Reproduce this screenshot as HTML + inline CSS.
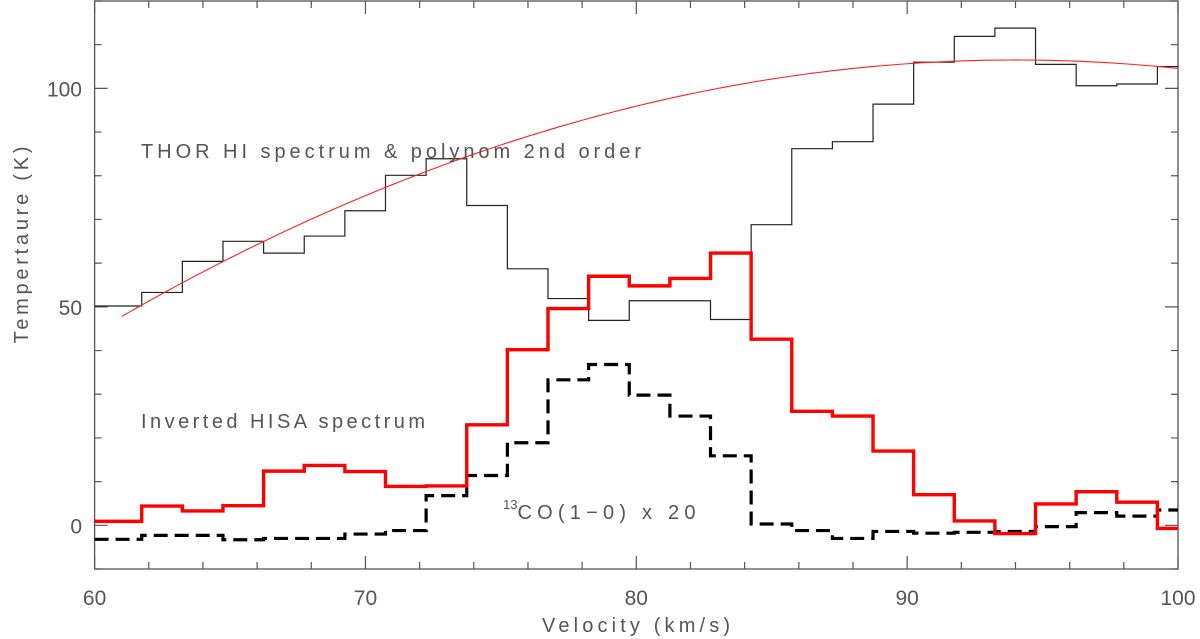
<!DOCTYPE html>
<html><head><meta charset="utf-8"><style>
html,body{margin:0;padding:0;background:#fff;}
svg{display:block;font-family:"Liberation Sans",sans-serif;}
</style></head><body>
<svg id="chart" width="1200" height="639" viewBox="0 0 1200 639" xmlns="http://www.w3.org/2000/svg">
<g id="axes"></g>
<g id="series"></g>
<text x="141" y="158" font-size="20" fill="#555" textLength="500" lengthAdjust="spacing">THOR HI spectrum &amp; polynom 2nd order</text>
<text x="141" y="428" font-size="20" fill="#555" textLength="284" lengthAdjust="spacing">Inverted HISA spectrum</text>
<text x="503" y="519" font-size="20" fill="#555"><tspan font-size="13" dy="-10">13</tspan><tspan dy="10" textLength="178" lengthAdjust="spacing">CO(1−0) x 20</tspan></text>
<text x="636" y="632" font-size="20" fill="#555" text-anchor="middle" textLength="188" lengthAdjust="spacing">Velocity (km/s)</text>
<text transform="translate(28,245) rotate(-90)" font-size="20" fill="#555" text-anchor="middle" textLength="197" lengthAdjust="spacing">Tempertaure (K)</text>
</svg>
<script>
const binEdges = [60, 61.74, 63.24, 64.74, 66.24, 67.74, 69.24, 70.74, 72.24, 73.74, 75.24, 76.74, 78.24, 79.74, 81.24, 82.74, 84.24, 85.74, 87.24, 88.74, 90.24, 91.74, 93.24, 94.74, 96.24, 97.74, 99.24, 100];
const hiValues = [50.2,53.3,60.4,65,62.3,66.2,72,80.1,83.9,73.2,58.7,51.9,46.9,51.4,51.4,47.1,68.8,86.2,87.8,96.4,106,111.9,113.8,105.5,100.6,101,105];
const hisaValues = [0.9,4.4,3.3,4.5,12.4,13.7,12.3,8.9,9,23,40.2,49.6,57,54.8,56.5,62.3,42.6,26.1,25,17,7,1,-1.9,4.9,7.7,5.3,-0.7];
const coValues = [-3.2,-2.3,-2.3,-3.3,-3,-3,-2,-1.2,6.8,11.4,18.9,33.3,36.8,29.8,25,15.9,0.3,-1.2,-3,-1.4,-1.8,-1.6,-1.4,-0.3,2.9,2.1,3.5];
const polyPeak = [94.0, 106.5];
const polyCurv = [0.0539];
const polyRange = [61.0, 100];
const xTicksMajor = [60, 70, 80, 90, 100];
const yTicksMajor = [0, 50, 100];

const X0=94.6, X1=1178, Y0=569, Y1=1;
const xmin=60, xmax=100, ymin=-10, ymax=120;
const sx = v => X0 + (v-xmin)/(xmax-xmin)*(X1-X0);
const sy = v => Y0 - (v-ymin)/(ymax-ymin)*(Y0-Y1);
const NS="http://www.w3.org/2000/svg";
const axes=document.getElementById('axes'), series=document.getElementById('series');
function mk(tag, attrs, parent){const e=document.createElementNS(NS,tag);for(const k in attrs)e.setAttribute(k,attrs[k]);parent.appendChild(e);return e;}

const frame=mk('rect',{x:X0,y:Y1,width:X1-X0,height:Y0-Y1,fill:'none',stroke:'#555','stroke-width':1.3},axes);


for(let v=xmin; v<=xmax; v+=2){
  const maj = v%10===0, L = maj?13:7;
  const t=mk('path',{d:`M${sx(v)},${Y0}v${-L}M${sx(v)},${Y1}v${L}`,stroke:'#555','stroke-width':1.2},axes);
  
  
}
for(let v=ymin; v<=ymax; v+=10){
  const maj = v%50===0, L = maj?13:7;
  const t=mk('path',{d:`M${X0},${sy(v)}h${L}M${X1},${sy(v)}h${-L}`,stroke:'#555','stroke-width':1.2},axes);
  
  
}
xTicksMajor.forEach(v=>{
  const t=mk('text',{x:sx(v),y:605,'font-size':21,fill:'#555','text-anchor':'middle'},axes);
  t.textContent=v;
  
  
});
yTicksMajor.forEach(v=>{
  const t=mk('text',{x:82,y:sy(v)+8,'font-size':21,fill:'#555','text-anchor':'end'},axes);
  t.textContent=v;
  
  
});

function stepPath(vals){
  let d=`M${sx(binEdges[0])},${sy(vals[0])}`;
  for(let i=0;i<vals.length;i++){
    if(i>0) d+=`L${sx(binEdges[i])},${sy(vals[i])}`;
    d+=`L${sx(binEdges[i+1])},${sy(vals[i])}`;
  }
  return d;
}
const hi=mk('path',{d:stepPath(hiValues),fill:'none',stroke:'#222','stroke-width':1.2},series);


let pd='';
for(let v=polyRange[0]; v<=polyRange[1]+1e-9; v+=0.25){
  const y=polyPeak[1]-polyCurv[0]*(v-polyPeak[0])**2;
  pd+=(pd?'L':'M')+sx(v)+','+sy(y);
}
const poly=mk('path',{d:pd,fill:'none',stroke:'#ff2020','stroke-width':1.1},series);


const co=mk('path',{d:stepPath(coValues),fill:'none',stroke:'#000','stroke-width':3.2,'stroke-dasharray':'14,7'},series);


const hisa=mk('path',{d:stepPath(hisaValues),fill:'none',stroke:'#ff0000','stroke-width':3.4},series);


</script>
</body></html>
